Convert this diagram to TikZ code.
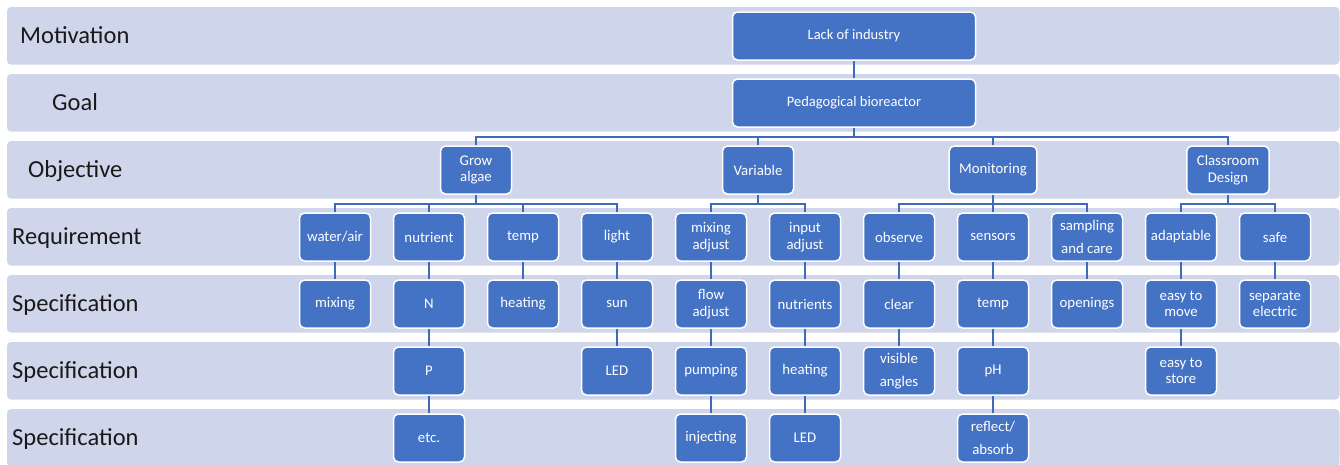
\documentclass[tikz,border=0pt]{standalone}
\usepackage{fontspec}
\setmainfont{Carlito}
\definecolor{orgblue}{RGB}{68,114,196}
\definecolor{orgline}{RGB}{63,106,186}
\definecolor{bandlav}{RGB}{207,213,234}
\usetikzlibrary{calc}

\begin{document}
\begin{tikzpicture}[x=1pt, y=-1pt,
  band/.style={fill=bandlav, rounded corners=4pt},
  rowlabel/.style={anchor=west, inner sep=0pt, text=black!90, font=\fontsize{24.5}{28}\selectfont, text height=15.8pt, text depth=0pt},
  orgbox/.style={draw=white, line width=1.5pt, fill=orgblue, rounded corners=5pt, text=white, font=\fontsize{14.8}{16.5}\selectfont, align=center, minimum width=71pt, minimum height=48pt, inner xsep=4pt, inner ysep=2pt},
  topbox/.style={orgbox, minimum width=243pt, font=\fontsize{14.5}{16.5}\selectfont},
  objbox/.style={orgbox, inner xsep=10pt},
  orglink/.style={draw=orgline, line width=2pt}]
  \useasboundingbox (0,0) rectangle (1340,464);

  %--- Level bands ---
  \foreach \r in {0,...,6}
    \fill[band] (7,{7+67*\r}) rectangle ++(1332.5,57.5);

  \foreach \lx/\ly/\ltext [count=\i] in {20/36/Motivation, 52/103/Goal, 28/170/Objective, 12/237/Requirement, 12/304/Specification, 12/371/Specification, 12/438/Specification}
    \node[rowlabel] (lab\i) at (\lx,\ly) {\ltext};

  %--- Motivation and goal ---
  \node[topbox] (lack) at (854,36) {Lack of industry};
  \node[topbox] (peda) at (854,103) {Pedagogical bioreactor};

  %--- Objectives ---
  \node[objbox] (grow) at (476,170) {Grow\\algae};
  \node[objbox] (vari) at (758,170) {Variable};
  \node[objbox] (moni) at (993,170) {Monitoring};
  \node[objbox] (class) at (1228,170) {Classroom\\Design};

  %--- Requirements ---
  \node[orgbox] (water) at (335,237) {water/air};
  \node[orgbox] (nutr) at (429,237) {nutrient};
  \node[orgbox] (tempreq) at (523,237) {temp};
  \node[orgbox] (light) at (617,237) {light};
  \node[orgbox] (mixadj) at (711,237) {mixing\\adjust};
  \node[orgbox] (inadj) at (805,237) {input\\adjust};
  \node[orgbox] (obs) at (899,237) {observe};
  \node[orgbox] (sens) at (993,237) {sensors};
  \node[orgbox] (samp) at (1087,237) {sampling\\[6pt]and care};
  \node[orgbox] (adapt) at (1181,237) {adaptable};
  \node[orgbox] (safe) at (1275,237) {safe};

  %--- Specifications ---
  % first level
  \node[orgbox] (mixing) at (335,304) {mixing};
  \node[orgbox] (nitro) at (429,304) {N};
  \node[orgbox] (heat) at (523,304) {heating};
  \node[orgbox] (sun) at (617,304) {sun};
  \node[orgbox] (flow) at (711,304) {flow\\adjust};
  \node[orgbox] (nutrs) at (805,304) {nutrients};
  \node[orgbox] (clear) at (899,304) {clear};
  \node[orgbox] (tempspec) at (993,304) {temp};
  \node[orgbox] (open) at (1087,304) {openings};
  \node[orgbox] (move) at (1181,304) {easy to\\move};
  \node[orgbox] (separ) at (1275,304) {separate\\electric};

  % second level
  \node[orgbox] (phos) at (429,371) {P};
  \node[orgbox] (ledsun) at (617,371) {LED};
  \node[orgbox] (pump) at (711,371) {pumping};
  \node[orgbox] (heatin) at (805,371) {heating};
  \node[orgbox] (angles) at (899,371) {visible\\[6pt]angles};
  \node[orgbox] (ph) at (993,371) {pH};
  \node[orgbox] (store) at (1181,371) {easy to\\store};

  % third level
  \node[orgbox] (etc) at (429,438) {etc.};
  \node[orgbox] (inject) at (711,438) {injecting};
  \node[orgbox] (ledin) at (805,438) {LED};
  \node[orgbox] (refl) at (993,438) {reflect/\\[6pt]absorb};

  %--- Connectors ---
  \draw[orglink] (lack) -- (peda);
  \foreach \c in {grow,vari,moni,class}
    \draw[orglink] (peda.south) -- ++(0,9.5) -| (\c.north);
  \foreach \c in {water,nutr,tempreq,light}
    \draw[orglink] (grow.south) -- ++(0,9.5) -| (\c.north);
  \foreach \c in {mixadj,inadj}
    \draw[orglink] (vari.south) -- ++(0,9.5) -| (\c.north);
  \foreach \c in {obs,sens,samp}
    \draw[orglink] (moni.south) -- ++(0,9.5) -| (\c.north);
  \foreach \c in {adapt,safe}
    \draw[orglink] (class.south) -- ++(0,9.5) -| (\c.north);
  \foreach \a/\b in {water/mixing, nutr/nitro, nitro/phos, phos/etc, tempreq/heat, light/sun, sun/ledsun, mixadj/flow, flow/pump, pump/inject, inadj/nutrs, nutrs/heatin, heatin/ledin, obs/clear, clear/angles, sens/tempspec, tempspec/ph, ph/refl, samp/open, adapt/move, move/store, safe/separ}
    \draw[orglink] (\a) -- (\b);
\end{tikzpicture}
\end{document}
